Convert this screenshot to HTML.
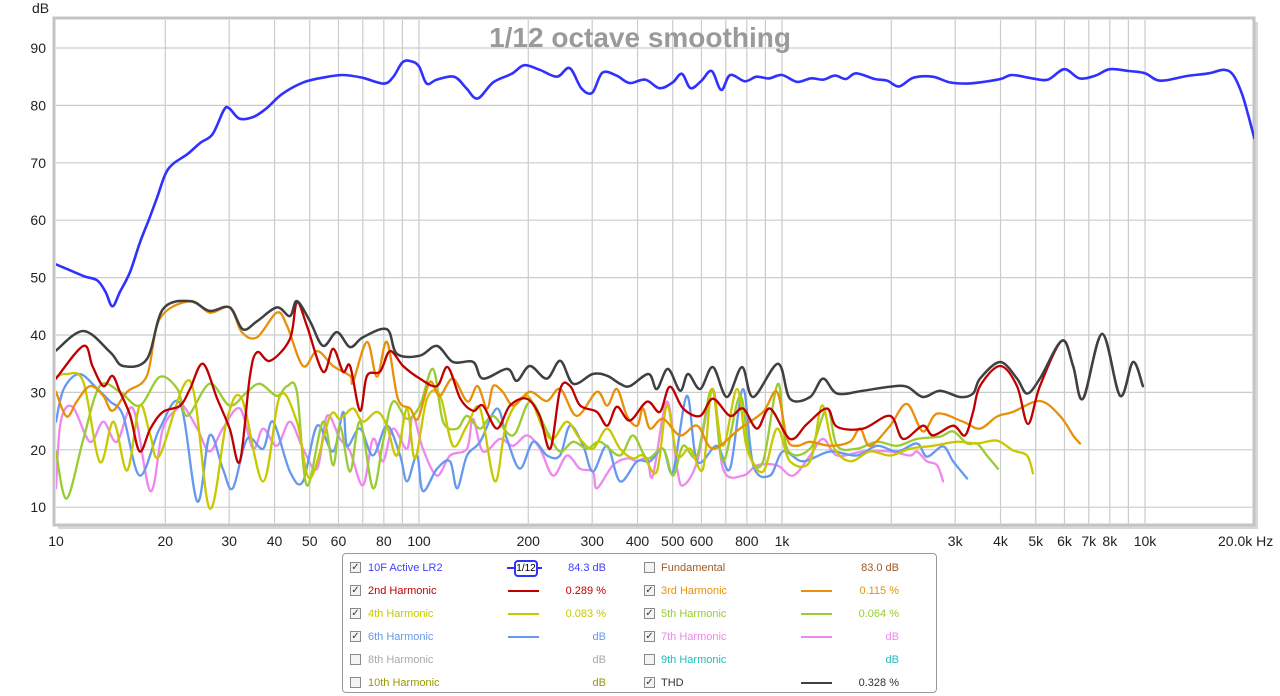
<!DOCTYPE html>
<html><head><meta charset="utf-8">
<style>
body{margin:0;background:#fff;width:1280px;height:696px;overflow:hidden;font-family:"Liberation Sans",Arial,sans-serif;position:relative}
#chart{position:absolute;left:0;top:0}
.legend{position:absolute;left:342px;top:553px;width:595px;height:140px;border:1px solid #9a9a9a;border-radius:4px;background:#fff;box-sizing:border-box}
.row{position:absolute;height:16px;font-size:11px;line-height:16px}
.cb{position:absolute;width:11px;height:11px;border:1px solid #8a8a8a;background:#f4f4f4;top:2px;box-sizing:border-box;font-size:10px;line-height:9px;color:#335;text-align:center}
.lbl{position:absolute;white-space:nowrap}
.val{position:absolute;text-align:right;width:80px;white-space:nowrap}
.ln{position:absolute;height:2px;top:7px;width:31px}
</style></head>
<body>
<svg id="chart" width="1280" height="552" xmlns="http://www.w3.org/2000/svg"></svg>

<div class="legend">
 <div class="row" style="left:7px;top:6px;width:580px">
  <div class="cb" style="left:0">✓</div>
  <div class="lbl" style="left:18px;color:#4040ff">10F Active LR2</div>
  <div style="position:absolute;left:157px;top:7px;width:35px;height:2px;background:#3030ff"></div>
  <div style="position:absolute;left:164px;top:0;width:20px;height:13px;border:2px solid #3030ff;border-radius:4px;background:#fff;font-size:10px;line-height:13px;text-align:center;color:#000">1/12</div>
  <div class="val" style="left:176px;color:#4040ff">84.3 dB</div>
 </div>
 <div class="row" style="left:301px;top:6px;width:280px">
  <div class="cb" style="left:0"></div>
  <div class="lbl" style="left:17px;color:#a05a28">Fundamental</div>
  <div class="val" style="left:175px;color:#a05a28">83.0 dB</div>
 </div>
 <div class="row" style="left:7px;top:29px;width:280px">
  <div class="cb" style="left:0">✓</div>
  <div class="lbl" style="left:18px;color:#c00000">2nd Harmonic</div>
  <div class="ln" style="left:158px;background:#c00000"></div>
  <div class="val" style="left:176px;color:#c00000">0.289 %</div>
 </div>
 <div class="row" style="left:301px;top:29px;width:280px">
  <div class="cb" style="left:0">✓</div>
  <div class="lbl" style="left:17px;color:#e8900a">3rd Harmonic</div>
  <div class="ln" style="left:157px;background:#e8900a"></div>
  <div class="val" style="left:175px;color:#e8900a">0.115 %</div>
 </div>
 <div class="row" style="left:7px;top:52px;width:280px">
  <div class="cb" style="left:0">✓</div>
  <div class="lbl" style="left:18px;color:#c8c800">4th Harmonic</div>
  <div class="ln" style="left:158px;background:#c8c800"></div>
  <div class="val" style="left:176px;color:#c8c800">0.083 %</div>
 </div>
 <div class="row" style="left:301px;top:52px;width:280px">
  <div class="cb" style="left:0">✓</div>
  <div class="lbl" style="left:17px;color:#99cc33">5th Harmonic</div>
  <div class="ln" style="left:157px;background:#99cc33"></div>
  <div class="val" style="left:175px;color:#99cc33">0.064 %</div>
 </div>
 <div class="row" style="left:7px;top:75px;width:280px">
  <div class="cb" style="left:0">✓</div>
  <div class="lbl" style="left:18px;color:#6699ee">6th Harmonic</div>
  <div class="ln" style="left:158px;background:#6699ee"></div>
  <div class="val" style="left:176px;color:#6699ee">dB</div>
 </div>
 <div class="row" style="left:301px;top:75px;width:280px">
  <div class="cb" style="left:0">✓</div>
  <div class="lbl" style="left:17px;color:#ee88ee">7th Harmonic</div>
  <div class="ln" style="left:157px;background:#ee88ee"></div>
  <div class="val" style="left:175px;color:#ee88ee">dB</div>
 </div>
 <div class="row" style="left:7px;top:98px;width:280px">
  <div class="cb" style="left:0"></div>
  <div class="lbl" style="left:18px;color:#aaaaaa">8th Harmonic</div>
  <div class="val" style="left:176px;color:#aaaaaa">dB</div>
 </div>
 <div class="row" style="left:301px;top:98px;width:280px">
  <div class="cb" style="left:0"></div>
  <div class="lbl" style="left:17px;color:#22bbbb">9th Harmonic</div>
  <div class="val" style="left:175px;color:#22bbbb">dB</div>
 </div>
 <div class="row" style="left:7px;top:121px;width:280px">
  <div class="cb" style="left:0"></div>
  <div class="lbl" style="left:18px;color:#999900">10th Harmonic</div>
  <div class="val" style="left:176px;color:#999900">dB</div>
 </div>
 <div class="row" style="left:301px;top:121px;width:280px">
  <div class="cb" style="left:0">✓</div>
  <div class="lbl" style="left:17px;color:#333">THD</div>
  <div class="ln" style="left:157px;background:#404040"></div>
  <div class="val" style="left:175px;color:#333">0.328 %</div>
 </div>
</div>

<script>
const xTickVals=[10,20,30,40,50,60,70,80,90,100,200,300,400,500,600,700,800,900,1000,2000,3000,4000,5000,6000,7000,8000,9000,10000,20000];
const xTickLabelVals=[10,20,30,40,50,60,80,100,200,300,400,500,600,800,1000,3000,4000,5000,6000,7000,8000,10000];
const xTickLabels=["10","20","30","40","50","60","80","100","200","300","400","500","600","800","1k","3k","4k","5k","6k","7k","8k","10k"];
const yTicks=[10,20,30,40,50,60,70,80,90];

const blueF=[10,11,12,13,13.7,14.3,15,16,17,18,19,20,21,23,25,27,29,30,32,35,38,42,48,55,62,70,80,85,90,95,100,105,112,125,135,145,160,180,195,215,240,260,280,300,320,350,380,420,460,500,530,560,600,640,680,720,790,850,920,1000,1100,1200,1300,1400,1500,1600,1800,1950,2100,2300,2600,2900,3200,3500,4000,4300,4900,5400,6000,6600,7300,8000,9000,10000,11000,13000,15000,16500,17500,18500,19300,20000];
const blueV=[52.3,51.2,50.2,49.5,47.5,45,47.5,51,56,60,64,68,69.8,71.5,73.5,75,79.2,79.5,77.7,78,79.5,82,84,84.9,85.3,84.8,83.8,85,87.5,87.7,86.8,83.8,84.5,85,83,81.2,84,85.5,87,86.2,85,86.5,83,82.2,85.7,85.2,83.9,84.5,83,84,85.5,83,84.3,86,82.7,85.3,84.2,85,84.7,85.3,84.1,84.7,84.5,85.2,84.6,85.6,84.6,84.3,83.3,84.8,85,84,83.8,84,84.6,85.3,84.7,84.5,86.3,84.7,85.2,86.3,86,85.6,84.3,85.1,85.6,86.2,85.3,82,78,74.3];

const thdF=[10,11.9,14.1,15.3,17.8,19.7,23.4,26.5,30.1,32.7,35.8,40.6,44.1,46.1,50.1,54.4,59.4,64.6,70.1,81.6,86.9,100.6,112,124,141,150,175,186,202,225,245,266,301,330,358,381,429,452,485,524,551,595,645,705,776,833,975,1052,1195,1297,1418,1673,1985,2209,2444,2725,3093,3360,3511,3988,4441,4730,5135,5907,6337,6750,7620,8537,9268,9867];
const thdV=[37.3,40.7,37.0,34.6,35.8,44.5,45.9,44.2,44.8,41.0,42.4,44.8,43.3,45.9,42.4,38.1,40.5,37.9,39.6,41.0,36.7,36.4,38.1,35.3,35.3,32.4,34.1,32.0,34.6,32.4,35.5,31.5,33.2,32.9,31.5,31.1,33.2,30.6,34.1,30.3,33.2,30.6,34.4,29.2,34.4,29.2,35.0,28.9,29.2,32.4,29.8,30.3,31.0,31.0,29.2,30.3,29.2,29.8,32.4,35.3,32.4,29.8,32.4,39.0,34.6,28.9,40.2,29.4,35.3,31.1];

const h2F=[10,11.9,12.6,13.5,14.3,15,16,17,18.2,19.7,22,23.4,25.4,27.8,30.1,32.1,34.2,35.8,38.9,44.1,46.1,49.1,54.4,58,61.8,64.6,68.8,71.9,78.1,83.2,90.4,100.6,112,120,130,141,150,164,178,198,215,230,245,261,278,309,330,351,381,425,461,491,534,595,645,719,781,854,927,1052,1172,1330,1418,1673,1985,2155,2444,2608,2961,3193,3360,3511,3988,4441,4760,5135,5907,6337,6750,7620,8537,9268,9867];
const h2V=[32.4,38.1,34.6,31.1,32.9,30.1,26.0,19.7,23.7,26.6,27.7,30.6,35.0,28.9,23.7,18.0,32.8,37.0,35.5,39.3,45.7,41.6,33.6,37.6,33.6,34.6,26.8,32.9,33.6,37.2,34.6,32.4,31.1,34.4,28.9,26.8,27.7,23.7,27.7,28.9,25.9,20.2,30.6,31.1,27.7,26.6,24.2,27.5,25.1,28.4,26.6,31.0,27.2,25.9,28.9,25.9,27.2,23.7,27.2,21.9,24.5,27.2,24.0,23.7,25.9,21.9,24.2,22.5,24.2,22.5,26.6,31.1,34.6,31.1,24.5,31.1,39.0,34.6,28.9,40.2,29.4,35.3,31.1];

const h3F=[10,10.7,11.4,12.4,13.5,14.3,15.7,17.8,19.3,23.4,26.5,30.1,32.5,35.8,40.6,43.3,47.9,52.4,58,64.6,65.8,71.9,76.6,81.6,87.5,94.5,99.3,107,114,124,136,145,154,160,170,182,202,225,245,272,309,330,351,374,399,414,433,470,524,584,645,766,887,969,1033,1099,1195,1356,1539,1641,1748,1985,2209,2444,2675,3152,3511,3912,4330,5135,5834,6337,6623];
const h3V=[30.1,25.8,28.4,31.1,29.4,26.8,30.1,32.9,42.8,45.9,43.9,44.8,40.5,39.6,43.9,41.6,34.6,37.2,34.6,32.9,31.8,38.8,32.7,38.8,28.9,27.2,25.4,31.8,29.4,32.4,28.4,31.1,27.2,31.1,30.1,27.7,30.1,28.5,30.6,25.9,30.1,27.7,30.6,25.9,24.2,27.2,23.7,25.4,22.5,24.2,20.2,23.7,26.6,30.1,21.9,20.7,21.4,20.7,21.4,23.7,20.7,24.2,28.0,23.2,26.3,24.9,23.7,25.8,26.6,28.5,25.9,22.5,21.1];

const h4F=[10,10.7,11.9,13.2,14.4,15.7,17,18.2,19.3,23.4,26.5,29.6,32.5,37.2,41.4,46.1,50.1,56.9,60.6,65.8,70.1,76.6,81.6,86.9,92.7,97.5,105.2,114.3,124.1,135.6,147.3,161.9,174.6,198.4,219.7,234.1,255.6,277.6,301.4,329.6,357.8,388.6,414,452,482,514,558,606,641,688,752,801,887,969,1052,1195,1288,1381,1539,1748,1985,2253,2608,3036,3446,3912,4330,4730,4915];
const h4V=[32.7,33.2,31.8,17.9,24.9,16.4,27.7,22.5,19.0,32.0,9.8,25.4,28.9,14.5,29.4,24.9,15.0,25.9,25.4,27.2,24.9,26.6,24.2,19.0,27.2,18.5,28.9,29.4,20.7,24.2,27.2,14.5,24.9,29.4,23.7,21.9,24.9,21.9,20.2,23.7,20.2,18.5,19.0,16.2,27.7,19.0,20.2,16.7,30.6,20.7,30.6,20.2,16.2,23.7,18.0,18.0,27.7,20.7,18.0,19.7,19.0,20.2,20.7,21.4,21.1,21.6,19.9,19.0,15.9];

const h5F=[10,10.7,11.9,13.2,15,17,19.3,21.6,23,26.5,30.1,33.6,36.5,40.6,43.3,46.1,49.1,54.4,58,60.6,64.6,68.8,74.7,79.6,84.8,92.7,100.6,109.3,116.5,127.4,135.6,147.3,159.9,181.5,202.3,225.3,244.6,265.6,290.4,315.4,357.8,388.6,425,470,501,534,584,641,688,766,817,887,975,1033,1195,1330,1418,1609,1826,2077,2355,2725,2961,3236,3446,3669,3936];
const h5V=[19.7,11.5,21.9,31.1,30.1,27.7,32.7,30.6,25.9,31.5,27.7,30.1,31.5,29.4,31.1,30.1,13.8,24.9,17.3,24.2,16.2,24.9,13.3,21.4,28.4,25.4,27.7,34.1,24.9,23.7,25.9,23.7,25.9,22.5,28.4,23.2,19.7,21.4,20.2,21.4,19.0,22.5,18.5,20.2,15.5,20.7,19.0,30.6,18.0,29.4,19.0,18.0,31.5,20.2,20.2,27.2,20.7,20.2,21.4,20.7,21.9,22.3,23.2,21.1,21.1,19.0,16.7];

const h6F=[10,10.5,11.6,13,14.1,15.3,17,19.3,22,24.5,26.5,28.8,30.7,33.6,37.2,39.6,44.1,47.9,52.4,58,61.8,63.4,68.8,74.7,81.6,88.7,92.7,98.7,102.5,112.1,121.7,127.4,135.6,147.3,164,174.6,189.7,206.2,225.3,244.6,260.6,283.3,301.4,329.6,357.8,398.9,433,470,501,547,584,662,719,781,833,927,1006,1142,1356,1609,1826,2077,2355,2507,2778,2961,3236];
const h6V=[24.9,30.6,33.2,30.6,28.4,26.0,15.5,23.7,28.0,11.0,22.5,16.7,13.3,21.9,20.2,24.9,16.2,14.5,24.2,19.7,26.6,20.7,23.7,19.0,24.2,19.0,14.5,19.0,12.8,16.7,18.0,13.3,19.0,21.4,27.2,21.9,16.7,21.4,19.0,19.0,24.2,20.7,16.2,20.7,14.5,18.0,18.0,20.2,16.2,29.4,18.0,20.7,16.7,30.6,17.3,15.5,19.7,18.0,19.7,19.0,20.7,19.7,21.1,18.8,20.6,18.0,15.0];

const h7F=[10,10.3,11.1,12.4,13.5,14.7,16.3,18.2,19.7,21.6,22.4,24.5,26.5,28.8,32.1,34.9,37.2,40.6,44.1,47.9,52.4,55.8,60.6,64.6,70.1,74.7,79.6,84.8,92.7,96.2,102.5,112.1,121.7,135.6,140.8,150.1,167.1,181.5,198.4,215.4,234.1,255.6,277.6,301.4,309,342.1,374.2,398.9,425,441,482,514,534,584,645,688,781,854,969,1072,1195,1297,1418,1673,1985,2253,2355,2507,2675,2778];
const h7V=[13.3,24.9,27.5,21.4,24.9,21.4,27.2,12.8,23.7,27.2,27.7,23.7,19.7,23.7,27.2,20.2,23.7,20.7,24.9,20.2,16.7,25.9,21.9,19.7,13.8,21.9,18.0,23.7,20.2,25.9,20.2,15.5,19.0,20.2,25.4,19.7,21.9,20.7,22.5,20.2,15.5,19.0,16.7,16.2,13.3,17.3,18.5,18.0,18.5,15.5,28.4,16.7,13.8,18.0,30.6,16.7,15.5,17.3,17.3,15.5,19.0,21.9,19.0,19.7,19.7,19.0,19.7,18.0,17.3,14.5];

const NS="http://www.w3.org/2000/svg";
const svg=document.getElementById('chart');
const PL=56,PR=1254,PT=20,PB=525;
function X(f){return PL+363*(Math.log10(f)-1);}
function Y(v){return 48+(90-v)*5.74;}
function mk(tag,attrs,parent){const e=document.createElementNS(NS,tag);for(const k in attrs)e.setAttribute(k,attrs[k]);(parent||svg).appendChild(e);return e;}

// frame shadow + plot bg
const shadow=mk('rect',{x:PL+2,y:PT+2,width:PR-PL+2,height:PB-PT+2,fill:'#d8d8d8'});


const bg=mk('rect',{x:PL-2,y:PT-2,width:PR-PL+2,height:PB-PT+2,fill:'#fff',stroke:'#c4c4c4','stroke-width':3});



const grid=mk('g',{stroke:'#cccccc','stroke-width':1.2});


xTickVals.forEach(f=>{const x=X(f);if(x<=PL+1||x>=PR-1)return;const l=mk('line',{x1:x,x2:x,y1:PT,y2:PB},grid);

});
yTicks.forEach(v=>{const y=Y(v);const l=mk('line',{x1:PL,x2:PR,y1:y,y2:y},grid);


const t=mk('text',{x:46,y:y+5,'text-anchor':'end','font-size':14,fill:'#222','font-family':'Liberation Sans, sans-serif'});t.textContent=v;

});

xTickLabelVals.forEach((f,i)=>{const t=mk('text',{x:X(f),y:546,'text-anchor':'middle','font-size':14,fill:'#222','font-family':'Liberation Sans, sans-serif'});t.textContent=xTickLabels[i];

});
const t2=mk('text',{x:1218,y:546,'font-size':14,fill:'#222','font-family':'Liberation Sans, sans-serif'});t2.textContent='20.0k Hz';


const t3=mk('text',{x:32,y:13,'font-size':14,fill:'#222','font-family':'Liberation Sans, sans-serif'});t3.textContent='dB';


const tt=mk('text',{x:640,y:47,'text-anchor':'middle','font-size':28,'font-weight':'bold',fill:'#9a9a9a','font-family':'Liberation Sans, sans-serif'});tt.textContent='1/12 octave smoothing';



function pathFor(F,V){const n=Math.min(F.length,V.length);const p=[];for(let i=0;i<n;i++)p.push([X(F[i]),Y(V[i])]);
let d='M'+p[0][0].toFixed(1)+','+p[0][1].toFixed(1);
for(let i=0;i<n-1;i++){const p0=p[Math.max(0,i-1)],p1=p[i],p2=p[i+1],p3=p[Math.min(n-1,i+2)];
const c1x=p1[0]+(p2[0]-p0[0])/6,c1y=p1[1]+(p2[1]-p0[1])/6,c2x=p2[0]-(p3[0]-p1[0])/6,c2y=p2[1]-(p3[1]-p1[1])/6;
d+=' C'+c1x.toFixed(1)+','+c1y.toFixed(1)+' '+c2x.toFixed(1)+','+c2y.toFixed(1)+' '+p2[0].toFixed(1)+','+p2[1].toFixed(1);}
return d;}
const clip=mk('clipPath',{id:'pc'});mk('rect',{x:PL,y:PT,width:PR-PL,height:PB-PT},clip);
const series=mk('g',{'clip-path':'url(#pc)',fill:'none','stroke-linejoin':'round','stroke-linecap':'round'});


function draw(F,V,color,w,name){const p=mk('path',{d:pathFor(F,V),stroke:color,'stroke-width':w},series);

}
draw(h7F,h7V,'#ee88ee',2.3,'series-7th-harmonic');
draw(h6F,h6V,'#6699ee',2.3,'series-6th-harmonic');
draw(h5F,h5V,'#99cc33',2.3,'series-5th-harmonic');
draw(h4F,h4V,'#c8c800',2.3,'series-4th-harmonic');
draw(h3F,h3V,'#e8900a',2.3,'series-3rd-harmonic');
draw(h2F,h2V,'#c00000',2.3,'series-2nd-harmonic');
draw(thdF,thdV,'#404040',2.5,'series-thd');
draw(blueF,blueV,'#3030ff',2.6,'series-10f-active-lr2');
</script>
</body></html>
